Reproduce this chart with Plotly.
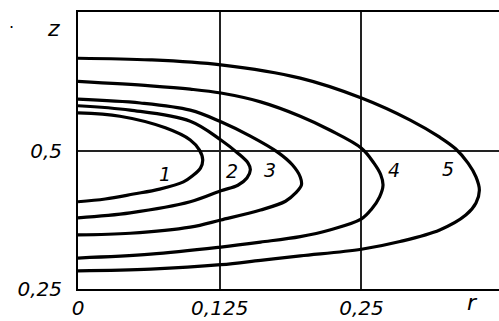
import plotly.graph_objects as go

# Curve data (r, z)
r1 = [0, 0.037, 0.077, 0.099, 0.107, 0.110, 0.108, 0.101, 0.093, 0.072, 0.049, 0.024, 0]
z1 = [0.569, 0.563, 0.542, 0.520, 0.502, 0.484, 0.469, 0.455, 0.444, 0.431, 0.422, 0.413, 0.408]

r2 = [0, 0.046, 0.099, 0.126, 0.141, 0.150, 0.152, 0.149, 0.141, 0.126, 0.099, 0.046, 0]
z2 = [0.582, 0.574, 0.554, 0.520, 0.496, 0.478, 0.466, 0.451, 0.438, 0.428, 0.408, 0.388, 0.379]

r3 = [0, 0.055, 0.099, 0.126, 0.152, 0.176, 0.189, 0.196, 0.197, 0.192, 0.183, 0.161, 0.126, 0.099, 0.046, 0]
z3 = [0.594, 0.587, 0.574, 0.553, 0.527, 0.498, 0.475, 0.453, 0.438, 0.424, 0.409, 0.393, 0.375, 0.362, 0.351, 0.348]

r4 = [0, 0.064, 0.099, 0.126, 0.161, 0.196, 0.222, 0.250, 0.261, 0.267, 0.269, 0.266, 0.259,
      0.250, 0.222, 0.196, 0.161, 0.126, 0.064, 0]
z4 = [0.626, 0.618, 0.612, 0.605, 0.589, 0.563, 0.538, 0.505, 0.478, 0.457, 0.438, 0.417, 0.395,
      0.377, 0.357, 0.345, 0.335, 0.326, 0.313, 0.306]

r5 = [0, 0.064, 0.126, 0.196, 0.250, 0.293, 0.319, 0.333, 0.344, 0.351, 0.354, 0.351, 0.342,
      0.319, 0.284, 0.250, 0.196, 0.161, 0.126, 0.064, 0]
z5 = [0.668, 0.665, 0.656, 0.632, 0.596, 0.556, 0.525, 0.504, 0.478, 0.453, 0.429, 0.406, 0.384,
      0.357, 0.336, 0.322, 0.310, 0.302, 0.294, 0.286, 0.283]

curve_r = [r1, r2, r3, r4, r5]
curve_z = [z1, z2, z3, z4, z5]

curve_labels = ["1", "2", "3", "4", "5"]
label_r = [0.077, 0.136, 0.169, 0.279, 0.326]
label_z = [0.458, 0.464, 0.466, 0.466, 0.467]

x_tickvals = [0, 0.125, 0.25]
x_ticktext = ["0", "0,125", "0,25"]
y_tickvals = [0.25, 0.5]
y_ticktext = ["0,25", "0,5"]

FONT = "DejaVu Sans"

fig = go.Figure()
for rr, zz in zip(curve_r, curve_z):
    fig.add_trace(go.Scatter(x=rr, y=zz, mode="lines",
                             line=dict(color="black", width=3.2, shape="spline", smoothing=1.0),
                             hoverinfo="skip", showlegend=False))

for t, x, y in zip(curve_labels, label_r, label_z):
    fig.add_annotation(x=x, y=y, text=t, showarrow=False,
                       font=dict(family=FONT, size=19, color="black", style="italic"))

# axis titles (paper coordinates, outside the plotting area)
fig.add_annotation(xref="paper", yref="paper", x=-0.059, y=0.939, text="z", showarrow=False,
                   xanchor="center", yanchor="middle",
                   font=dict(family=FONT, size=22, color="black", style="italic"))
fig.add_annotation(xref="paper", yref="paper", x=0.936, y=-0.05, text="r", showarrow=False,
                   xanchor="center", yanchor="middle",
                   font=dict(family=FONT, size=22, color="black", style="italic"))
fig.add_annotation(xref="paper", yref="paper", x=-0.157, y=0.945, text="·", showarrow=False,
                   xanchor="center", yanchor="middle",
                   font=dict(family=FONT, size=16, color="black"))

fig.update_layout(
    width=499, height=321,
    margin=dict(l=78, r=0, t=12, b=32, pad=0),
    paper_bgcolor="white", plot_bgcolor="white",
    showlegend=False,
    xaxis=dict(range=[0, 0.3713], tickvals=x_tickvals, ticktext=x_ticktext,
               showgrid=True, gridcolor="#222", gridwidth=1.5,
               showline=True, linecolor="black", linewidth=2, mirror=True,
               zeroline=False, ticks="",
               tickfont=dict(family=FONT, size=20, color="black", style="italic")),
    yaxis=dict(range=[0.25, 0.7518], tickvals=y_tickvals, ticktext=y_ticktext,
               showgrid=True, gridcolor="#222", gridwidth=1.5,
               showline=True, linecolor="black", linewidth=2,
               zeroline=False, ticks="", ticklabelstandoff=10,
               tickfont=dict(family=FONT, size=20, color="black", style="italic")),
)

fig.write_html("out.html", config={"displayModeBar": False},
               post_script="document.body.style.margin='0';document.body.style.overflow='hidden';")
